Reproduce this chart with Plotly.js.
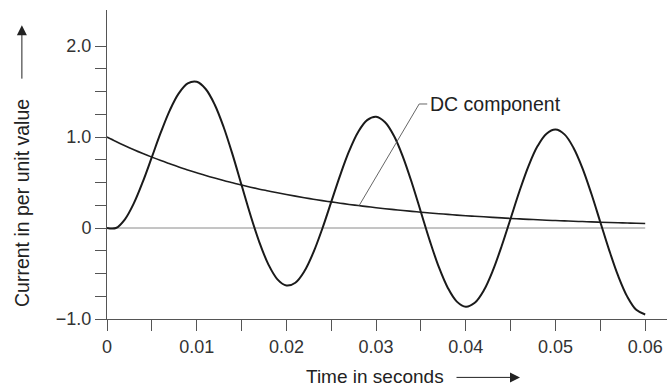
<!DOCTYPE html>
<html>
<head>
<meta charset="utf-8">
<script src="https://cdn.plot.ly/plotly-3.0.1.min.js"></script>
<style>html,body{margin:0;padding:0;background:#fff;}#chart{width:667px;height:389px;}</style>
</head>
<body>
<div id="chart"></div>
<script>
// Time in seconds (1 ms steps)
var time = [0,0.001,0.002,0.003,0.004,0.005,0.006,0.007,0.008,0.009,
  0.010,0.011,0.012,0.013,0.014,0.015,0.016,0.017,0.018,0.019,
  0.020,0.021,0.022,0.023,0.024,0.025,0.026,0.027,0.028,0.029,
  0.030,0.031,0.032,0.033,0.034,0.035,0.036,0.037,0.038,0.039,
  0.040,0.041,0.042,0.043,0.044,0.045,0.046,0.047,0.048,0.049,
  0.050,0.051,0.052,0.053,0.054,0.055,0.056,0.057,0.058,0.059,0.060];
// Total current (per unit)
var current = [0.000,0.000,0.096,0.273,0.510,0.779,1.050,1.293,1.479,1.589,
  1.607,1.528,1.358,1.110,0.806,0.472,0.140,-0.160,-0.402,-0.564,
  -0.632,-0.601,-0.476,-0.271,-0.008,0.287,0.582,0.847,1.056,1.186,
  1.223,1.163,1.011,0.780,0.492,0.174,-0.144,-0.431,-0.659,-0.809,
  -0.865,-0.822,-0.687,-0.471,-0.198,0.105,0.409,0.683,0.900,1.037,
  1.082,1.029,0.883,0.659,0.376,0.064,-0.248,-0.530,-0.754,-0.899,-0.950];
// DC component (per unit)
var dcComponent = [1.000,0.951,0.905,0.861,0.819,0.779,0.741,0.705,0.670,0.638,
  0.607,0.577,0.549,0.522,0.497,0.472,0.449,0.427,0.407,0.387,
  0.368,0.350,0.333,0.317,0.301,0.287,0.273,0.259,0.247,0.235,
  0.223,0.212,0.202,0.192,0.183,0.174,0.165,0.157,0.150,0.142,
  0.135,0.129,0.123,0.117,0.111,0.105,0.100,0.095,0.091,0.086,
  0.082,0.078,0.074,0.071,0.067,0.064,0.061,0.058,0.055,0.052,0.050];
var zeroLineX = [0, 0.06];
var zeroLineY = [0, 0];

var xTickVals = [0,0.005,0.01,0.015,0.02,0.025,0.03,0.035,0.04,0.045,0.05,0.055,0.06];
var xTickText = ['0','','0.01','','0.02','','0.03','','0.04','','0.05','','0.06'];
var yTickVals = [-1,-0.75,-0.5,-0.25,0,0.25,0.5,0.75,1,1.25,1.5,1.75,2];
var yTickText = ['\u22121.0','','','','0','','','','1.0','','','','2.0'];

var dcLabel = 'DC component';
var dcLeaderX = [0.0281, 0.0348, 0.0357];
var dcLeaderY = [0.245, 1.363, 1.363];

var font = 'Liberation Sans, Arial, Helvetica, sans-serif';

var traces = [
  {x: zeroLineX, y: zeroLineY, mode: 'lines', line: {color: '#8a8a8a', width: 1}, hoverinfo: 'skip'},
  {x: time, y: dcComponent, mode: 'lines', line: {color: '#1e1e1e', width: 1.6, shape: 'spline'}},
  {x: time, y: current, mode: 'lines', line: {color: '#1a1a1a', width: 2, shape: 'spline'}},
  {x: dcLeaderX, y: dcLeaderY, mode: 'lines', line: {color: '#555', width: 0.9}, hoverinfo: 'skip'}
];

var layout = {
  width: 667, height: 389,
  margin: {l: 107, r: 0, t: 10, b: 70},
  paper_bgcolor: '#fff', plot_bgcolor: '#fff',
  showlegend: false,
  font: {family: font, size: 18, color: '#333'},
  xaxis: {
    range: [0, 0.06243], showgrid: false, zeroline: false,
    showline: true, linecolor: '#555', linewidth: 1,
    ticks: 'outside', ticklen: 11, tickcolor: '#555', tickwidth: 1,
    tickmode: 'array', tickvals: xTickVals, ticktext: xTickText,
    tickfont: {size: 18, color: '#333'}, fixedrange: true
  },
  yaxis: {
    range: [-1, 2.396], showgrid: false, zeroline: false,
    showline: true, linecolor: '#555', linewidth: 1,
    ticks: 'outside', ticklen: 11, tickcolor: '#555', tickwidth: 1,
    tickmode: 'array', tickvals: yTickVals, ticktext: yTickText,
    tickfont: {size: 18, color: '#333'}, fixedrange: true
  },
  annotations: [
    {text: dcLabel, x: dcLeaderX[2], y: dcLeaderY[2], xref: 'x', yref: 'y',
     xanchor: 'left', yanchor: 'middle', showarrow: false, xshift: 1,
     font: {size: 19.5, color: '#222'}},
    {text: 'Current in per unit value', xref: 'paper', yref: 'paper',
     x: -0.152, y: 0.375, textangle: -90, showarrow: false,
     xanchor: 'center', yanchor: 'middle', font: {size: 19.5, color: '#222'}},
    {text: '', xref: 'paper', yref: 'paper', x: -0.152, y: 0.951,
     showarrow: true, ax: 0, ay: 55, arrowhead: 2, arrowsize: 2, arrowwidth: 1, arrowcolor: '#222'},
    {text: 'Time in seconds', xref: 'paper', yref: 'paper',
     x: 0.4786, y: -0.186, showarrow: false,
     xanchor: 'center', yanchor: 'middle', font: {size: 19, color: '#222'}},
    {text: '', xref: 'paper', yref: 'paper', x: 0.7375, y: -0.189,
     showarrow: true, ax: -65, ay: 0, arrowhead: 2, arrowsize: 2, arrowwidth: 1, arrowcolor: '#222'}
  ]
};

Plotly.newPlot('chart', traces, layout, {displayModeBar: false, staticPlot: true});
</script>
</body>
</html>
